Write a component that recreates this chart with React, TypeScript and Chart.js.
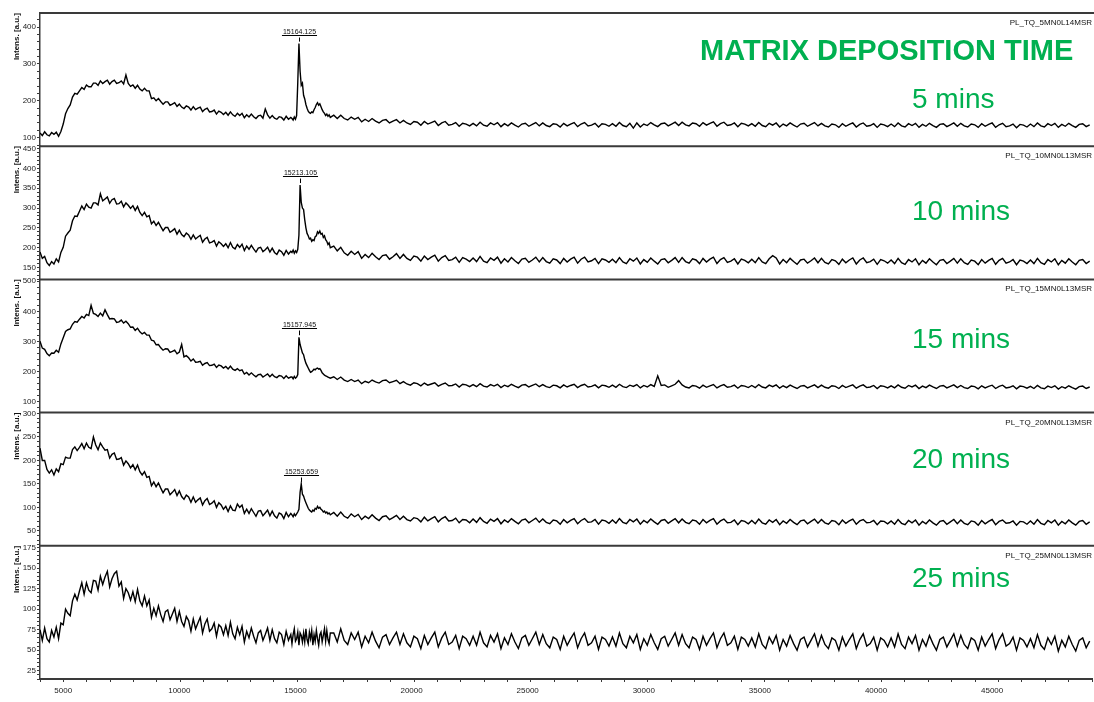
import React, { useEffect, useRef } from 'react';
import { Chart, registerables } from 'chart.js';

Chart.register(...registerables);

// ---- data: mass (Da) and intensity (a.u.) ----
const MASS = [
  4000, 4100, 4200, 4300, 4400, 4500, 4600, 4700, 4800, 4900,
  5000, 5100, 5200, 5300, 5400, 5500, 5600, 5700, 5800, 5900,
  6000, 6100, 6200, 6300, 6400, 6500, 6600, 6700, 6800, 6900,
  7000, 7100, 7200, 7300, 7400, 7500, 7600, 7700, 7800, 7900,
  8000, 8100, 8200, 8300, 8400, 8500, 8600, 8700, 8800, 8900,
  9000, 9100, 9200, 9300, 9400, 9500, 9600, 9700, 9800, 9900,
  10000, 10100, 10200, 10300, 10400, 10500, 10600, 10700, 10800, 10900,
  11000, 11100, 11200, 11300, 11400, 11500, 11600, 11700, 11800, 11900,
  12000, 12100, 12200, 12300, 12400, 12500, 12600, 12700, 12800, 12900,
  13000, 13100, 13200, 13300, 13400, 13500, 13600, 13700, 13800, 13900,
  14000, 14100, 14200, 14300, 14400, 14500, 14600, 14700, 14800,
  14850, 14900, 14950, 15000, 15050, 15100, 15150, 15200, 15250, 15300,
  15350, 15400, 15450, 15500, 15550, 15600, 15650, 15700, 15750, 15800,
  15850, 15900, 15950, 16000, 16050, 16100, 16150, 16200, 16250, 16300,
  16350, 16400, 16450, 16500,
  16650, 16800, 16950, 17100, 17250, 17400, 17550, 17700, 17850, 18000,
  18150, 18300, 18450, 18600, 18750, 18900, 19050, 19200, 19350, 19500,
  19650, 19800, 19950, 20100, 20250, 20400, 20550, 20700, 20850, 21000,
  21150, 21300, 21450, 21600, 21750, 21900, 22050, 22200, 22350, 22500,
  22650, 22800, 22950, 23100, 23250, 23400, 23550, 23700, 23850, 24000,
  24150, 24300, 24450, 24600, 24750, 24900, 25050, 25200, 25350, 25500,
  25650, 25800, 25950, 26100, 26250, 26400, 26550, 26700, 26850, 27000,
  27150, 27300, 27450, 27600, 27750, 27900, 28050, 28200, 28350, 28500,
  28650, 28800, 28950, 29100, 29250, 29400, 29550, 29700, 29850, 30000,
  30150, 30300, 30450, 30600, 30750, 30900, 31050, 31200, 31350, 31500,
  31650, 31800, 31950, 32100, 32250, 32400, 32550, 32700, 32850, 33000,
  33150, 33300, 33450, 33600, 33750, 33900, 34050, 34200, 34350, 34500,
  34650, 34800, 34950, 35100, 35250, 35400, 35550, 35700, 35850, 36000,
  36150, 36300, 36450, 36600, 36750, 36900, 37050, 37200, 37350, 37500,
  37650, 37800, 37950, 38100, 38250, 38400, 38550, 38700, 38850, 39000,
  39150, 39300, 39450, 39600, 39750, 39900, 40050, 40200, 40350, 40500,
  40650, 40800, 40950, 41100, 41250, 41400, 41550, 41700, 41850, 42000,
  42150, 42300, 42450, 42600, 42750, 42900, 43050, 43200, 43350, 43500,
  43650, 43800, 43950, 44100, 44250, 44400, 44550, 44700, 44850, 45000,
  45150, 45300, 45450, 45600, 45750, 45900, 46050, 46200, 46350, 46500,
  46650, 46800, 46950, 47100, 47250, 47400, 47550, 47700, 47850, 48000,
  48150, 48300, 48450, 48600, 48750, 48900, 49050, 49200,
];

const INT_5MIN = [
  113, 106, 116, 108, 105, 114, 109, 115, 104, 117,
  137, 165, 179, 189, 210, 220, 218, 227, 236, 231,
  243, 238, 238, 248, 248, 242, 254, 247, 252, 256,
  245, 252, 256, 247, 249, 254, 246, 270, 247, 239,
  243, 234, 242, 232, 227, 234, 227, 227, 206, 208,
  200, 206, 198, 191, 197, 197, 188, 191, 195, 185,
  191, 183, 179, 186, 183, 175, 184, 176, 180, 183,
  171, 177, 180, 170, 171, 175, 164, 172, 169, 163,
  169, 161, 170, 162, 158, 166, 160, 166, 154, 162,
  156, 164, 157, 152, 159, 161, 153, 178, 162, 153,
  160, 153, 150, 157, 155, 148, 158, 150, 155,
  152, 148, 156, 150, 160, 250, 355, 280, 242, 248,
  215, 205, 190, 180, 172, 168, 166, 170, 168, 176,
  182, 190, 195, 188, 192, 184, 176, 170, 166, 160,
  164, 158, 162, 155,
  161, 152, 161, 152, 148, 156, 150, 155, 143, 150,
  144, 152, 145, 140, 147, 149, 140, 145, 149, 140,
  147, 140, 136, 144, 142, 134, 144, 137, 141, 145,
  133, 140, 144, 134, 136, 141, 131, 139, 137, 132,
  139, 132, 142, 134, 131, 140, 135, 141, 130, 138,
  132, 140, 134, 129, 137, 139, 131, 136, 141, 132,
  140, 133, 130, 138, 136, 129, 139, 132, 137, 141,
  130, 137, 141, 132, 134, 139, 129, 138, 136, 131,
  138, 131, 141, 133, 130, 139, 126, 140, 129, 137,
  133, 141, 135, 130, 138, 140, 132, 137, 142, 133,
  142, 135, 132, 140, 138, 131, 141, 134, 139, 143,
  131, 138, 142, 133, 135, 140, 130, 139, 137, 132,
  138, 131, 141, 133, 130, 139, 134, 140, 129, 137,
  132, 140, 134, 129, 137, 139, 131, 136, 141, 132,
  139, 132, 129, 137, 135, 128, 138, 131, 136, 140,
  129, 136, 140, 131, 133, 138, 128, 137, 135, 130,
  137, 130, 140, 132, 129, 138, 133, 139, 128, 136,
  131, 139, 133, 128, 136, 138, 130, 135, 140, 131,
  139, 132, 129, 137, 135, 128, 138, 131, 136, 140,
  128, 135, 139, 130, 132, 137, 127, 136, 134, 129,
  137, 130, 140, 132, 129, 138, 133, 139, 128, 136,
  131, 139, 133, 128, 136, 138, 130, 135,
];

const INT_10MIN = [
  189, 173, 178, 162, 155, 165, 159, 172, 164, 188,
  201, 229, 237, 244, 268, 280, 279, 292, 305, 296,
  310, 302, 300, 313, 313, 308, 336, 318, 323, 328,
  312, 321, 324, 310, 311, 317, 303, 313, 307, 299,
  306, 294, 304, 289, 281, 289, 278, 281, 260, 267,
  256, 264, 253, 243, 251, 251, 239, 243, 248, 234,
  244, 233, 228, 237, 232, 221, 232, 222, 227, 231,
  214, 222, 226, 212, 214, 218, 204, 215, 210, 203,
  210, 200, 213, 201, 197, 208, 201, 209, 193, 204,
  196, 206, 197, 189, 199, 201, 190, 195, 201, 189,
  199, 188, 183, 194, 190, 181, 193, 184, 191,
  188, 194, 186, 192, 188, 196, 232, 358, 314, 300,
  296, 270, 250, 236, 230, 222, 224, 216, 220, 218,
  228, 230, 240, 236, 242, 234, 236, 226, 230, 220,
  216, 208, 212, 200,
  204, 192, 201, 187, 181, 191, 183, 190, 173, 183,
  175, 186, 177, 170, 180, 182, 171, 177, 185, 173,
  183, 173, 168, 179, 176, 166, 179, 170, 176, 181,
  166, 175, 180, 168, 170, 176, 163, 175, 171, 165,
  174, 165, 178, 166, 162, 174, 168, 176, 161, 172,
  164, 175, 167, 160, 171, 173, 163, 169, 176, 164,
  175, 165, 161, 172, 169, 160, 173, 164, 171, 176,
  161, 171, 176, 164, 167, 173, 160, 172, 169, 163,
  171, 162, 175, 164, 160, 172, 166, 174, 159, 170,
  163, 174, 166, 159, 170, 172, 162, 168, 175, 163,
  175, 165, 161, 172, 169, 160, 173, 164, 171, 176,
  160, 170, 175, 163, 166, 172, 159, 171, 168, 162,
  171, 162, 175, 164, 160, 172, 180, 174, 159, 170,
  162, 173, 165, 158, 169, 171, 161, 167, 174, 162,
  173, 163, 159, 170, 167, 158, 171, 162, 169, 174,
  159, 169, 174, 162, 165, 171, 158, 170, 167, 161,
  169, 160, 173, 162, 158, 170, 164, 172, 157, 168,
  161, 172, 164, 157, 168, 170, 160, 166, 173, 161,
  172, 162, 158, 169, 166, 157, 170, 161, 168, 173,
  158, 168, 173, 161, 164, 170, 157, 169, 166, 160,
  169, 160, 173, 162, 158, 170, 164, 172, 157, 168,
  161, 172, 164, 157, 168, 170, 160, 166,
];

const INT_15MIN = [
  301, 278, 274, 260, 253, 262, 261, 271, 264, 292,
  312, 333, 339, 342, 357, 366, 364, 374, 383, 378,
  390, 386, 420, 393, 390, 383, 394, 385, 405, 389,
  375, 376, 375, 363, 365, 371, 361, 367, 359, 347,
  348, 337, 344, 332, 325, 330, 321, 321, 304, 302,
  289, 290, 279, 271, 276, 275, 264, 267, 271, 259,
  265, 290, 249, 253, 246, 235, 242, 231, 232, 234,
  221, 227, 230, 220, 221, 225, 214, 222, 219, 212,
  217, 209, 218, 208, 204, 210, 203, 206, 192, 197,
  189, 196, 189, 183, 190, 191, 182, 187, 192, 183,
  191, 183, 180, 187, 185, 177, 186, 178, 182,
  182, 176, 184, 178, 182, 190, 314, 290, 276, 262,
  256, 240, 228, 220, 212, 204, 198, 200, 204, 208,
  206, 210, 212, 208, 210, 204, 196, 192, 188, 186,
  184, 182, 180, 178,
  183, 174, 182, 172, 167, 174, 167, 172, 160, 168,
  163, 172, 166, 162, 170, 172, 163, 167, 171, 160,
  167, 159, 155, 163, 160, 153, 162, 155, 159, 163,
  152, 158, 162, 153, 154, 159, 149, 158, 156, 150,
  157, 150, 160, 152, 149, 157, 152, 158, 147, 155,
  150, 158, 152, 147, 155, 157, 149, 154, 159, 150,
  157, 150, 147, 155, 153, 146, 156, 149, 154, 158,
  147, 154, 158, 149, 151, 156, 146, 155, 153, 148,
  155, 148, 158, 150, 147, 155, 151, 157, 146, 154,
  149, 157, 151, 186, 154, 156, 148, 153, 158, 170,
  156, 149, 146, 154, 152, 145, 155, 148, 153, 157,
  146, 153, 157, 148, 150, 155, 145, 154, 152, 147,
  154, 147, 157, 149, 146, 155, 150, 156, 145, 153,
  147, 155, 149, 144, 152, 154, 146, 151, 156, 147,
  155, 148, 145, 153, 151, 144, 154, 147, 152, 156,
  145, 152, 156, 147, 149, 154, 144, 153, 151, 146,
  153, 146, 156, 148, 145, 154, 149, 155, 144, 152,
  147, 155, 149, 144, 152, 154, 146, 151, 156, 147,
  154, 147, 144, 152, 150, 143, 153, 146, 151, 155,
  144, 151, 155, 146, 148, 153, 143, 152, 150, 145,
  151, 144, 154, 146, 143, 152, 147, 153, 142, 150,
  145, 153, 147, 142, 150, 152, 144, 149,
];

const INT_20MIN = [
  226, 200, 200, 181, 173, 180, 169, 182, 176, 193,
  191, 207, 205, 205, 223, 229, 221, 228, 236, 225,
  237, 228, 225, 250, 233, 223, 237, 229, 222, 223,
  205, 213, 216, 202, 203, 206, 190, 199, 193, 184,
  191, 180, 190, 176, 169, 176, 164, 166, 146, 154,
  144, 152, 141, 131, 139, 139, 127, 132, 138, 125,
  135, 123, 117, 126, 122, 111, 122, 111, 116, 120,
  105, 114, 119, 106, 109, 114, 100, 110, 105, 96,
  102, 91, 103, 94, 93, 107, 100, 105, 87, 96,
  87, 97, 89, 81, 92, 93, 82, 88, 94, 82,
  92, 82, 77, 88, 85, 76, 89, 80, 87,
  84, 80, 86, 82, 86, 90, 96, 132, 150, 128,
  124, 116, 110, 104, 98, 94, 92, 90, 94, 92,
  98, 96, 102, 98, 100, 96, 94, 90, 92, 88,
  90, 86, 88, 84,
  89, 81, 90, 81, 77, 86, 80, 85, 74, 81,
  76, 84, 77, 72, 80, 82, 74, 78, 83, 74,
  81, 74, 71, 78, 76, 69, 79, 71, 76, 80,
  69, 76, 80, 71, 72, 77, 67, 74, 73, 67,
  75, 68, 78, 70, 66, 75, 70, 76, 65, 73,
  68, 76, 70, 65, 73, 75, 67, 72, 77, 68,
  75, 68, 65, 73, 71, 64, 74, 67, 72, 76,
  65, 72, 76, 68, 69, 74, 64, 73, 71, 66,
  73, 66, 76, 68, 65, 74, 69, 75, 64, 72,
  67, 75, 69, 64, 72, 74, 66, 71, 76, 67,
  75, 68, 65, 73, 71, 64, 74, 67, 72, 76,
  64, 71, 75, 67, 68, 73, 63, 72, 70, 65,
  72, 65, 75, 67, 64, 73, 68, 74, 63, 71,
  66, 74, 68, 63, 71, 73, 65, 70, 75, 66,
  74, 67, 64, 72, 70, 63, 73, 66, 71, 75,
  64, 71, 74, 67, 68, 72, 63, 71, 70, 65,
  71, 64, 74, 66, 63, 72, 67, 73, 62, 70,
  65, 73, 67, 62, 70, 72, 64, 69, 74, 65,
  73, 66, 63, 71, 69, 62, 72, 65, 70, 74,
  63, 70, 73, 66, 67, 71, 62, 70, 69, 64,
  71, 64, 74, 66, 63, 72, 67, 73, 62, 70,
  65, 73, 67, 62, 70, 72, 64, 69,
];

const INT_25MIN = [
  75, 62, 77, 64, 60, 74, 66, 78, 64, 83,
  81, 100, 95, 92, 110, 118, 111, 122, 132, 118,
  132, 123, 120, 135, 134, 123, 140, 130, 139, 146,
  127, 137, 143, 146, 128, 133, 113, 125, 120, 111,
  121, 109, 124, 110, 104, 116, 104, 111, 90, 101,
  92, 104, 93, 85, 97, 99, 87, 94, 101, 85,
  97, 85, 79, 91, 86, 73, 88, 76, 83, 90,
  71, 82, 88, 73, 76, 83, 67, 81, 78, 69,
  80, 68, 84, 70, 64, 78, 69, 79, 60, 73,
  65, 77, 67, 59, 71, 74, 62, 69, 77, 62,
  75, 64, 59, 72, 69, 57, 73, 62, 69,
  58, 69, 76, 61, 64, 72, 56, 71, 68, 60,
  71, 60, 76, 63, 58, 72, 64, 74, 56, 69,
  61, 74, 64, 56, 69, 72, 60, 68, 76, 61,
  74, 63, 58, 71,
  71, 60, 76, 62, 57, 71, 63, 72, 54, 67,
  59, 72, 61, 53, 66, 69, 57, 65, 72, 57,
  70, 59, 54, 67, 64, 52, 68, 57, 65, 72,
  54, 65, 72, 57, 60, 68, 52, 67, 64, 56,
  67, 56, 72, 59, 54, 68, 60, 70, 52, 65,
  57, 70, 60, 52, 65, 68, 56, 64, 72, 57,
  69, 58, 53, 66, 63, 51, 67, 56, 64, 71,
  53, 64, 71, 56, 59, 67, 51, 66, 63, 55,
  66, 55, 71, 58, 53, 67, 59, 69, 51, 64,
  56, 69, 59, 51, 64, 67, 55, 63, 71, 56,
  69, 58, 53, 66, 63, 51, 67, 56, 64, 71,
  53, 64, 71, 56, 59, 67, 51, 66, 63, 55,
  65, 54, 70, 57, 52, 66, 58, 68, 50, 63,
  55, 68, 58, 50, 63, 66, 54, 62, 70, 55,
  68, 57, 52, 65, 62, 50, 66, 55, 63, 70,
  52, 63, 70, 55, 58, 66, 50, 65, 62, 54,
  65, 54, 70, 57, 52, 66, 58, 68, 50, 63,
  55, 68, 58, 50, 63, 66, 54, 62, 70, 55,
  68, 57, 52, 65, 62, 50, 66, 55, 63, 70,
  52, 63, 70, 55, 58, 66, 50, 65, 62, 54,
  64, 53, 69, 56, 51, 65, 57, 67, 49, 62,
  54, 67, 57, 49, 62, 65, 53, 61,
];

const SERIES = [INT_5MIN, INT_10MIN, INT_15MIN, INT_20MIN, INT_25MIN];
const SPECTRUM_NAMES = ['PL_TQ_5MN0L14MSR', 'PL_TQ_10MN0L13MSR', 'PL_TQ_15MN0L13MSR', 'PL_TQ_20MN0L13MSR', 'PL_TQ_25MN0L13MSR'];
const TIME_LABELS = ['5 mins', '10 mins', '15 mins', '20 mins', '25 mins'];
const PEAK_MASSES = [15164.125, 15213.105, 15157.945, 15253.659, null];
const PEAK_LABELS = ['15164.125', '15213.105', '15157.945', '15253.659', ''];
const Y_MIN = [77, 120, 64, 18, 15];
const Y_MAX = [438, 456, 506, 302, 177];
const Y_MAJOR = [100, 50, 100, 50, 25];
const Y_MINOR = [20, 10, 20, 10, 5];
const X_LABELS = [5000, 10000, 15000, 20000, 25000, 30000, 35000, 40000, 45000];
const TITLE = 'MATRIX DEPOSITION TIME';
const Y_TITLE = 'Intens. [a.u.]';

// ---- styling / layout ----
const FONT = "'Liberation Sans', Arial, sans-serif";
const GREEN = '#00b050';
const AXIS = '#3a3a3a';
const TIME_LABEL_POS = [
  [912, 108],
  [912, 220],
  [912, 348],
  [912, 468],
  [912, 587],
];

const overlay = {
  id: 'overlay',
  afterDraw(chart: any) {
    const ctx = chart.ctx as CanvasRenderingContext2D;
    const W = chart.width;
    const xs = chart.scales.x;
    ctx.save();
    // panel separators / top frame
    ctx.strokeStyle = AXIS;
    ctx.lineWidth = 2;
    for (let i = 0; i < 5; i++) {
      const ys = chart.scales['y' + i];
      ctx.beginPath();
      ctx.moveTo(chart.chartArea.left, ys.top);
      ctx.lineTo(W, ys.top);
      ctx.stroke();
    }
    // x tick labels (major ticks of the mass axis)
    ctx.fillStyle = '#222';
    ctx.font = `8px ${FONT}`;
    ctx.textAlign = 'center';
    ctx.textBaseline = 'middle';
    X_LABELS.forEach((v) => {
      ctx.fillText(String(v), xs.getPixelForValue(v), xs.top + 12);
    });
    // spectrum names
    ctx.fillStyle = '#111';
    ctx.font = `8px ${FONT}`;
    ctx.textAlign = 'right';
    ctx.textBaseline = 'alphabetic';
    for (let i = 0; i < 5; i++) {
      const ys = chart.scales['y' + i];
      ctx.fillText(SPECTRUM_NAMES[i], W - 2, ys.top + 12);
    }
    // peak annotations
    ctx.lineWidth = 1;
    ctx.strokeStyle = '#000';
    for (let i = 0; i < 5; i++) {
      const pm = PEAK_MASSES[i];
      if (pm == null) continue;
      const ys = chart.scales['y' + i];
      let best = -Infinity;
      SERIES[i].forEach((v, k) => {
        if (Math.abs(MASS[k] - pm) <= 120 && v > best) best = v;
      });
      const px = Math.round(xs.getPixelForValue(pm)) + 0.5;
      const py = ys.getPixelForValue(best);
      const barY = Math.round(py - 9) + 0.5;
      ctx.font = `7px ${FONT}`;
      ctx.textAlign = 'center';
      const tw = ctx.measureText(PEAK_LABELS[i]).width + 2;
      ctx.beginPath();
      ctx.moveTo(px - tw / 2, barY);
      ctx.lineTo(px + tw / 2, barY);
      ctx.moveTo(px, barY + 2);
      ctx.lineTo(px, py - 2);
      ctx.stroke();
      ctx.fillStyle = '#111';
      ctx.fillText(PEAK_LABELS[i], px, barY - 2);
    }
    // green texts
    ctx.fillStyle = GREEN;
    ctx.textAlign = 'left';
    ctx.font = `bold 29px ${FONT}`;
    ctx.fillText(TITLE, 700, 60);
    ctx.font = `28px ${FONT}`;
    TIME_LABELS.forEach((t, i) => {
      ctx.fillText(t, TIME_LABEL_POS[i][0], TIME_LABEL_POS[i][1]);
    });
    ctx.restore();
  },
};

export default function App() {
  const ref = useRef<HTMLCanvasElement>(null);
  useEffect(() => {
    const canvas = ref.current;
    if (!canvas) return;
    Chart.defaults.font.family = FONT;
    const datasets = SERIES.map((vals, i) => ({
      label: SPECTRUM_NAMES[i],
      data: MASS.map((m, k) => ({ x: m, y: vals[k] })),
      yAxisID: 'y' + i,
      borderColor: '#000',
      borderWidth: 1.4,
      pointRadius: 0,
      fill: false,
      tension: 0,
    }));
    const scales: any = {
      x: {
        type: 'linear',
        position: 'bottom',
        min: 4000,
        max: 49300,
        afterFit: (s: any) => { s.height = 23; },
        ticks: {
          stepSize: 1000,
          autoSkip: false,
          includeBounds: false,
          maxRotation: 0,
          minRotation: 0,
          padding: 2,
          color: '#222',
          font: { size: 8 },
          callback: () => '',
        },
        grid: { display: true, drawOnChartArea: false, drawTicks: true, tickLength: 3, color: AXIS },
        border: { display: true, color: AXIS, width: 2 },
      },
    };
    for (let i = 4; i >= 0; i--) {
      const major = Y_MAJOR[i];
      scales['y' + i] = {
        type: 'linear',
        position: 'left',
        stack: 'panels',
        stackWeight: 1,
        min: Y_MIN[i],
        max: Y_MAX[i],
        afterFit: (s: any) => { s.width = 40; },
        ticks: {
          stepSize: Y_MINOR[i],
          autoSkip: false,
          includeBounds: false,
          padding: 1,
          color: '#222',
          font: { size: 8 },
          callback: (v: any) => (Number(v) % major === 0 ? String(v) : ''),
        },
        grid: { display: true, drawOnChartArea: false, drawTicks: true, tickLength: 3, color: AXIS },
        border: { display: true, color: AXIS, width: 1.5 },
        title: {
          display: true,
          text: Y_TITLE,
          align: 'end',
          color: '#111',
          font: { size: 8, weight: 'bold' },
          padding: { top: 12, bottom: 0 },
        },
      };
    }
    const chart = new Chart(canvas, {
      type: 'line',
      data: { datasets },
      options: {
        responsive: false,
        maintainAspectRatio: false,
        animation: false,
        devicePixelRatio: 1,
        parsing: false as any,
        layout: { padding: { top: 13, right: 1, left: 0, bottom: 0 } },
        plugins: { legend: { display: false }, tooltip: { enabled: false } },
        scales,
      } as any,
      plugins: [overlay],
    });
    return () => chart.destroy();
  }, []);
  return (
    <div style={{ position: 'fixed', left: 0, top: 0, width: 1094, height: 702, background: '#fff' }}>
      <canvas ref={ref} width={1094} height={702} style={{ display: 'block', width: 1094, height: 702 }} />
    </div>
  );
}
